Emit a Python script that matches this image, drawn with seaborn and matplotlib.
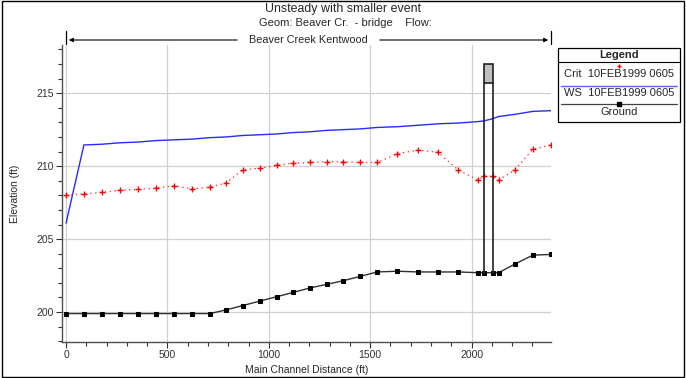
import pandas as pd
import matplotlib
matplotlib.use("Agg")
import matplotlib.pyplot as plt
import seaborn as sns
from matplotlib.lines import Line2D
from matplotlib.patches import Rectangle
from matplotlib.ticker import MultipleLocator

# river stations (main channel distance, ft)
stations = [0, 88, 177, 266, 355, 443, 532, 620, 709, 790, 872, 955, 1038, 1120,
            1202, 1285, 1368, 1451, 1535, 1634, 1736, 1834, 1933, 2031, 2061, 2105,
            2134, 2215, 2302, 2392]

ground = [199.9, 199.9, 199.9, 199.9, 199.9, 199.9, 199.9, 199.9, 199.9, 200.15,
          200.45, 200.75, 201.05, 201.35, 201.65, 201.9, 202.15, 202.45, 202.75, 202.8,
          202.75, 202.75, 202.75, 202.7, 202.7, 202.7, 202.7, 203.3, 203.9, 203.95]

crit = [208.0, 208.1, 208.2, 208.35, 208.4, 208.5, 208.65, 208.45, 208.55, 208.85,
        209.75, 209.85, 210.05, 210.2, 210.25, 210.3, 210.3, 210.25, 210.25, 210.85,
        211.1, 210.95, 209.75, 209.05, 209.3, 209.3, 209.05, 209.75, 211.15, 211.45]

ws = [206.1, 211.45, 211.5, 211.6, 211.65, 211.75, 211.8, 211.85, 211.95, 212.0,
      212.1, 212.15, 212.2, 212.3, 212.35, 212.45, 212.5, 212.55, 212.65, 212.7,
      212.8, 212.9, 212.95, 213.05, 213.1, 213.25, 213.4, 213.55, 213.75, 213.8]

# bridge (upstream / downstream faces, low chord, deck top)
bridge_x = [2061, 2105]
bridge_low_chord = 215.7
bridge_deck = 217.0
bridge_ground = 202.7

df = pd.DataFrame({"dist": stations, "ground": ground, "crit": crit, "ws": ws})

sns.set_theme(style="whitegrid")
plt.rcParams["font.family"] = ["Liberation Sans", "DejaVu Sans"]

fig = plt.figure(figsize=(6.86, 3.78), dpi=100)
ax = fig.add_axes([0.0904, 0.0952, 0.7128, 0.7858])

# bridge
ax.add_patch(Rectangle((bridge_x[0], bridge_low_chord), bridge_x[1] - bridge_x[0],
                       bridge_deck - bridge_low_chord, facecolor="#c0c0c0",
                       edgecolor="#202020", lw=1.2, zorder=4))
for bx in bridge_x:
    ax.plot([bx, bx], [bridge_ground, bridge_low_chord], color="#202020", lw=1.2, zorder=4)

sns.lineplot(data=df, x="dist", y="ws", color="#2a2aff", lw=1.0, ax=ax, zorder=3)
sns.lineplot(data=df, x="dist", y="crit", color="#ff4040", lw=1.0, ls=(0, (1, 2.5)),
             marker="+", markersize=4.5, markeredgewidth=1.0, markeredgecolor="#ff0000",
             ax=ax, zorder=3)
sns.lineplot(data=df, x="dist", y="ground", color="#303030", lw=1.0,
             marker="s", markersize=3.5, markerfacecolor="black", markeredgecolor="black",
             ax=ax, zorder=3)

ax.set_xlim(-20, 2392)
ax.set_ylim(197.95, 218.3)
ax.xaxis.set_major_locator(MultipleLocator(500))
ax.xaxis.set_minor_locator(MultipleLocator(100))
ax.yaxis.set_major_locator(MultipleLocator(5))
ax.yaxis.set_minor_locator(MultipleLocator(1))
ax.set_facecolor("white")
ax.grid(True, which="major", color="#d0d0d0", lw=0.9)
ax.grid(False, which="minor")
for s in ["top", "right"]:
    ax.spines[s].set_visible(False)
for s in ["left", "bottom"]:
    ax.spines[s].set_color("#505050")
    ax.spines[s].set_linewidth(1.0)
ax.tick_params(axis="both", which="both", direction="out", colors="#303030",
               labelsize=7.5, left=True, bottom=True)
ax.tick_params(which="major", length=4, width=0.8, pad=2)
ax.tick_params(which="minor", length=3, width=0.8)
ax.set_xlabel("Main Channel Distance (ft)", fontsize=7.5, labelpad=3)
ax.set_ylabel("Elevation (ft)", fontsize=7.5)
ax.yaxis.set_label_coords(-0.085, 0.5)

# titles
fig.text(0.5, 0.976, "Unsteady with smaller event", ha="center", va="center", fontsize=8.9)
fig.text(0.504, 0.940, "Geom: Beaver Cr.  - bridge    Flow:", ha="center", va="center", fontsize=8)

# reach arrow
ry = 1 - 40 / 378
x0, x1 = 66 / 686, 551 / 686
fig.text(308 / 686, ry, "Beaver Creek Kentwood", ha="center", va="center", fontsize=7.8)
fig.add_artist(Line2D([x0, x0], [1 - 31 / 378, 1 - 44 / 378], color="black", lw=0.9))
fig.add_artist(Line2D([x1, x1], [1 - 31 / 378, 1 - 44 / 378], color="black", lw=0.9))
ax.annotate("", xy=(x0, ry), xytext=(240 / 686, ry), xycoords="figure fraction",
            arrowprops=dict(arrowstyle="-|>", color="black", lw=0.8, mutation_scale=6))
ax.annotate("", xy=(x1, ry), xytext=(377 / 686, ry), xycoords="figure fraction",
            arrowprops=dict(arrowstyle="-|>", color="black", lw=0.8, mutation_scale=6))

# legend box
lx0, lx1 = 558 / 686, 680 / 686
fig.add_artist(Rectangle((lx0, 1 - 122 / 378), lx1 - lx0, 74 / 378, transform=fig.transFigure,
                         facecolor="white", edgecolor="black", lw=0.9))
fig.add_artist(Line2D([lx0, lx1], [1 - 62 / 378] * 2, color="black", lw=0.8))
lc = (lx0 + lx1) / 2
fig.text(lc, 1 - 55 / 378, "Legend", ha="center", va="center", fontsize=8, fontweight="bold")
fig.add_artist(Line2D([lc], [1 - 66 / 378], marker="+", color="red", markersize=3.5, lw=0))
fig.text(lc, 1 - 74 / 378, "Crit  10FEB1999 0605", ha="center", va="center", fontsize=8)
fig.add_artist(Line2D([lx0 + 0.004, lx1 - 0.004], [1 - 86 / 378] * 2, color="#6060ff", lw=1.0))
fig.text(lc, 1 - 93 / 378, "WS  10FEB1999 0605", ha="center", va="center", fontsize=8)
fig.add_artist(Line2D([lx0 + 0.004, lx1 - 0.004], [1 - 104 / 378] * 2, color="#404040", lw=0.9))
fig.add_artist(Line2D([lc], [1 - 104 / 378], marker="s", color="black", markersize=3, lw=0))
fig.text(lc, 1 - 112 / 378, "Ground", ha="center", va="center", fontsize=8)

# outer frame
fig.add_artist(Rectangle((0.003, 0.003), 0.994, 0.994, transform=fig.transFigure,
                         facecolor="none", edgecolor="black", lw=1.0))

fig.savefig("out.png", dpi=100)
